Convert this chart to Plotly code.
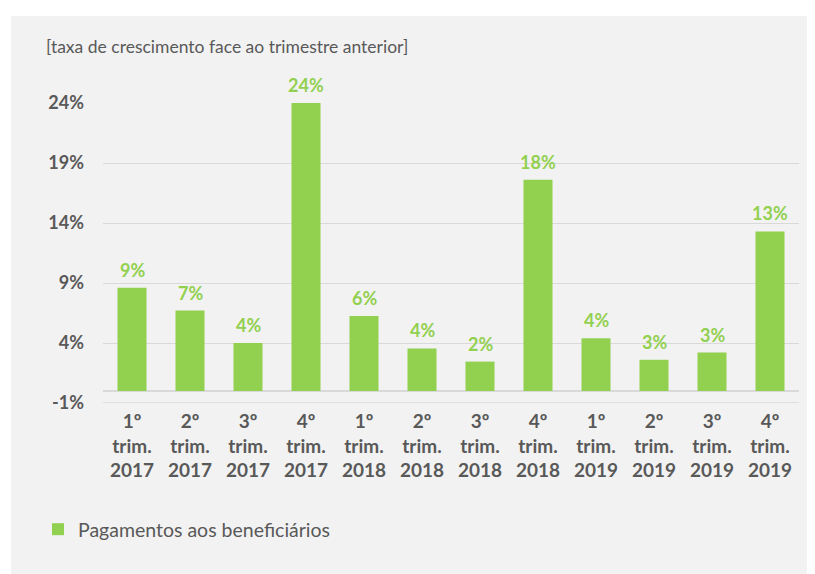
import plotly.graph_objects as go

categories = ["1º<br>trim.<br>2017", "2º<br>trim.<br>2017", "3º<br>trim.<br>2017", "4º<br>trim.<br>2017",
              "1º<br>trim.<br>2018", "2º<br>trim.<br>2018", "3º<br>trim.<br>2018", "4º<br>trim.<br>2018",
              "1º<br>trim.<br>2019", "2º<br>trim.<br>2019", "3º<br>trim.<br>2019", "4º<br>trim.<br>2019"]
values = [8.6, 6.7, 4.0, 24.0, 6.25, 3.55, 2.45, 17.6, 4.4, 2.6, 3.2, 13.3]
y_tick_values = [-1, 4, 9, 14, 19, 24]
y_tick_labels = ["-1%", "4%", "9%", "14%", "19%", "24%"]
series_name = "Pagamentos aos beneficiários"
subtitle = "[taxa de crescimento face ao trimestre anterior]"

# page offset (browser body margin) compensation
OFF = 8
SW, SH = 815, 574            # screen size
W, H = SW - OFF, SH - OFF    # figure size
# plot area in screen pixels
PX0, PX1, PY0, PY1 = 103, 799, 103, 403
L, R, T, B = PX0 - OFF, W - (PX1 - OFF), PY0 - OFF, H - (PY1 - OFF)
pw, ph = PX1 - PX0, PY1 - PY0

def px_x(x):
    return (x - PX0) / pw

def px_y(y):
    return (PY1 - y) / ph

GREEN = "#92d050"
GRAY_TXT = "#595959"
GRID = "#d9d9d9"
BG = "#f2f2f2"
FONT = "Lato"

fig = go.Figure()
fig.add_trace(go.Bar(
    x=categories, y=values, name=series_name,
    marker=dict(color=GREEN, line=dict(width=0)),
    showlegend=True,
))

annotations = [dict(x=c, y=v, xref="x", yref="y", text=f"{v:.0f}%",
                    showarrow=False, yanchor="bottom", yshift=5,
                    font=dict(family=FONT, size=18, color=GREEN, weight="bold"))
               for c, v in zip(categories, values)]
annotations.append(dict(text=subtitle, xref="paper", yref="paper", x=px_x(44), y=px_y(47),
                        xanchor="left", yanchor="middle", showarrow=False,
                        font=dict(family=FONT, size=17.5, color=GRAY_TXT)))

fig.update_layout(
    width=W, height=H,
    margin=dict(l=L, r=R, t=T, b=B, autoexpand=False),
    paper_bgcolor=BG, plot_bgcolor="rgba(0,0,0,0)",
    bargap=0.5,
    font=dict(family=FONT, color=GRAY_TXT),
    showlegend=True,
    legend=dict(orientation="h", x=px_x(38), y=px_y(510), xanchor="left", yanchor="top",
                font=dict(family=FONT, size=19.5, color=GRAY_TXT), bgcolor="rgba(0,0,0,0)",
                itemwidth=30),
    xaxis=dict(showgrid=False, showline=False, ticks="", ticklabelstandoff=5,
               tickfont=dict(family=FONT, size=19, color=GRAY_TXT, weight="bold")),
    yaxis=dict(range=[-1, 24], tickmode="array", tickvals=y_tick_values, ticktext=y_tick_labels,
               showgrid=True, gridcolor=GRID, gridwidth=1,
               zeroline=True, zerolinecolor=GRID, zerolinewidth=1.5,
               showline=False, ticks="", ticklabelstandoff=18,
               tickfont=dict(family=FONT, size=18, color=GRAY_TXT, weight="bold")),
    shapes=[
        # white strip above the grey panel
        dict(type="rect", xref="paper", yref="paper",
             x0=px_x(-10), x1=px_x(SW + 20), y0=px_y(16), y1=px_y(-10),
             fillcolor="white", line=dict(width=0), layer="below"),
        # white strip left of the grey panel
        dict(type="rect", xref="paper", yref="paper",
             x0=px_x(-10), x1=px_x(11), y0=px_y(SH + 20), y1=px_y(-10),
             fillcolor="white", line=dict(width=0), layer="below"),
        dict(type="line", xref="paper", yref="y", x0=0, x1=1, y0=-1, y1=-1,
             line=dict(color=GRID, width=1.5), layer="below"),
    ],
    annotations=annotations,
)

fig.write_html("out.html")
